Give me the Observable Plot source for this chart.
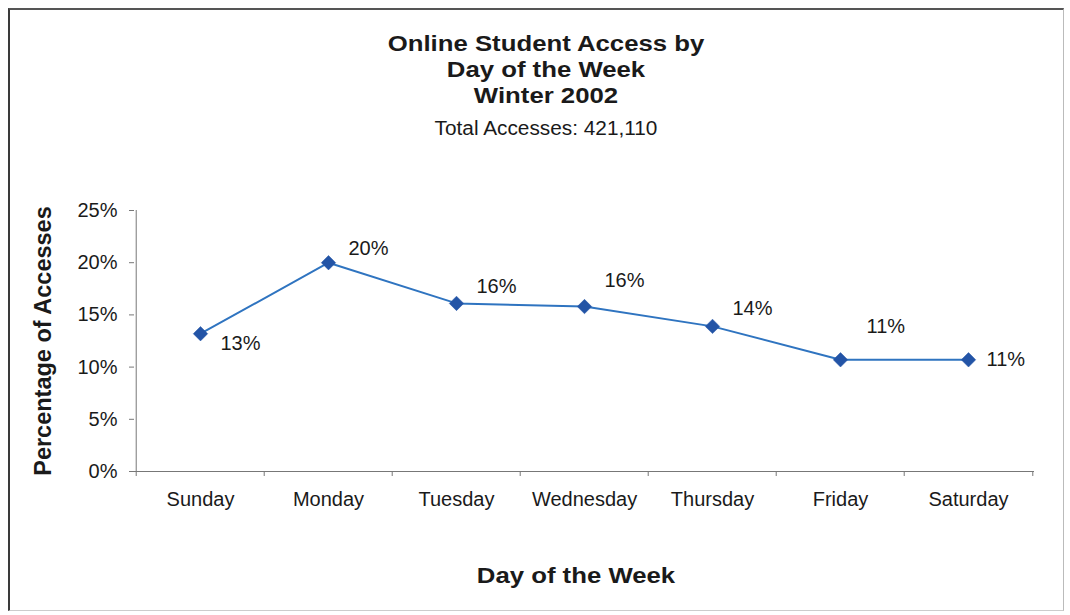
<!DOCTYPE html>
<html>
<head>
<meta charset="utf-8">
<script src="https://cdn.jsdelivr.net/npm/d3@7"></script>
<script src="https://cdn.jsdelivr.net/npm/@observablehq/plot@0.6"></script>
<style>
  html, body { margin: 0; padding: 0; background: #fff; }
  #wrap { position: relative; width: 1070px; height: 615px; overflow: hidden; background: #fff;
          font-family: "Liberation Sans", Arial, sans-serif; color: #1a1a1a; }
  #box { position: absolute; left: 8px; top: 8px; width: 1056px; height: 603px;
         border-left: 2px solid #3a3a3a; border-top: 2px solid #555; border-right: 1px solid #bbb; border-bottom: 1px solid #ccc; box-sizing: border-box; }
  #chart { position: absolute; left: 0; top: 0; }
  .t { position: absolute; left: 13px; width: 1066px; text-align: center; white-space: nowrap; line-height: 25px; }
  .title { font-weight: bold; font-size: 22px; transform: scaleX(1.17); }
  .sub { font-size: 20px; transform: scaleX(1.04); }
  .xt { position: absolute; left: 42.5px; width: 1066px; text-align: center; white-space: nowrap; line-height: 25px;
        font-weight: bold; font-size: 22px; transform: scaleX(1.17); }
</style>
</head>
<body>
<div id="wrap">
  <div id="box"></div>
  <div id="chart"></div>
  <div class="t title" style="top:31px">Online Student Access by</div>
  <div class="t title" style="top:57px">Day of the Week</div>
  <div class="t title" style="top:83px">Winter 2002</div>
  <div class="t sub" style="top:116px">Total Accesses: 421,110</div>
  <div class="xt" style="top:563px">Day of the Week</div>
</div>
<script>
const days = ["Sunday", "Monday", "Tuesday", "Wednesday", "Thursday", "Friday", "Saturday"];
const shares = [0.132, 0.200, 0.161, 0.158, 0.139, 0.107, 0.107];
const labels = ["13%", "20%", "16%", "16%", "14%", "11%", "11%"];
const yTicks = [0, 0.05, 0.10, 0.15, 0.20, 0.25];

// label placement offsets (layout only)
const labelDx = [20, 20, 20, 20, 20, 26, 18];
const labelDy = [10, -14, -17, -26, -18, -33, 0];

const data = days.map((d, i) => ({day: d, share: shares[i], label: labels[i], i}));

const W = 1070, H = 615;
const mL = 134, mR = 36, mT = 210, mB = 144;
const bw = (W - mL - mR) / days.length;

const plot = Plot.plot({
  width: W,
  height: H,
  marginLeft: mL,
  marginRight: mR,
  marginTop: mT,
  marginBottom: mB,
  style: {fontFamily: "Liberation Sans, Arial, sans-serif", fontSize: "20px", color: "#1a1a1a", background: "transparent"},
  x: {type: "band", domain: days, padding: 0},
  y: {domain: [0, 0.25]},
  marks: [
    // axis lines
    Plot.ruleY([0], {stroke: "#777", strokeWidth: 1}),
    Plot.ruleX([days[0]], {dx: -bw / 2, y1: 0, y2: 0.25, stroke: "#777", strokeWidth: 1}),
    // y axis
    Plot.axisY(yTicks, {tickSize: 5, tickPadding: 12, tickFormat: d => Math.round(d * 100) + "%", stroke: "#777", fill: "#1a1a1a", fontSize: 20, label: null}),
    // x boundary ticks
    Plot.axisX(days, {tickSize: 5, dx: -bw / 2, tickFormat: () => "", stroke: "#777", label: null}),
    Plot.axisX([days[days.length - 1]], {tickSize: 5, dx: bw / 2, tickFormat: () => "", stroke: "#777", label: null}),
    // x labels
    Plot.axisX(days, {tickSize: 0, tickPadding: 20, fill: "#1a1a1a", fontSize: 20, label: null}),
    // y axis title
    Plot.text(["Percentage of Accesses"], {frameAnchor: "left", textAnchor: "middle", dx: -91, rotate: -90, fontWeight: "bold", fontSize: 23.5, fill: "#1a1a1a"}),
    // series
    Plot.line(data, {x: "day", y: "share", stroke: "#2f74c0", strokeWidth: 2}),
    Plot.dot(data, {x: "day", y: "share", symbol: "diamond2", r: 6.5, fill: "#2354a6", stroke: "#2354a6", strokeWidth: 0.5}),
    ...data.map(d => Plot.text([d], {x: "day", y: "share", text: "label", textAnchor: "start", dx: labelDx[d.i], dy: labelDy[d.i], fontSize: 20, fill: "#1a1a1a"}))
  ]
});
document.getElementById("chart").appendChild(plot);
</script>
</body>
</html>
